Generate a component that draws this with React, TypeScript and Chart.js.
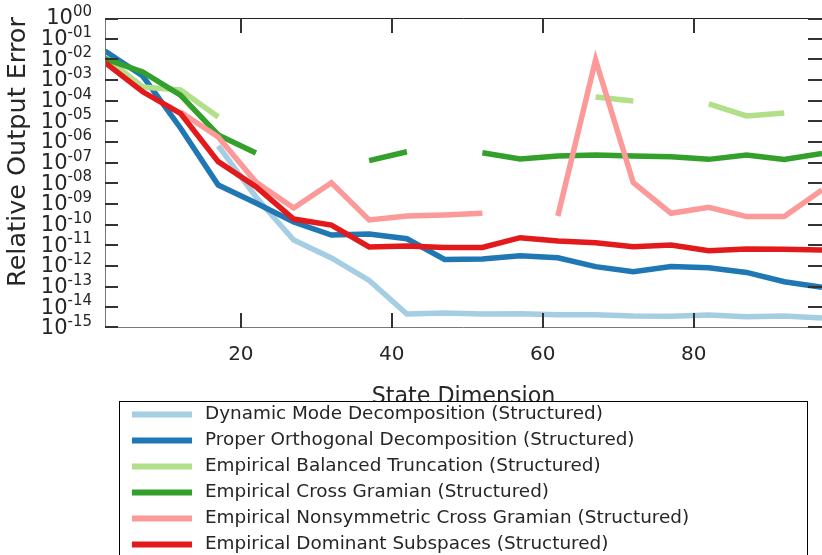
import { useEffect, useRef } from 'react';
import { Chart, registerables } from 'chart.js';

Chart.register(...registerables);

const STATE_DIMENSION = [2, 7, 12, 17, 22, 27, 32, 37, 42, 47, 52, 57, 62, 67, 72, 77, 82, 87, 92, 97];
const X_TICKS = [20, 40, 60, 80];
const Y_TICK_EXPONENTS = [0, -1, -2, -3, -4, -5, -6, -7, -8, -9, -10, -11, -12, -13, -14, -15];

const SERIES_LABELS = [
  'Dynamic Mode Decomposition (Structured)',
  'Proper Orthogonal Decomposition (Structured)',
  'Empirical Balanced Truncation (Structured)',
  'Empirical Cross Gramian (Structured)',
  'Empirical Nonsymmetric Cross Gramian (Structured)',
  'Empirical Dominant Subspaces (Structured)',
];
const SERIES_COLORS = ['#a6cee3', '#1f78b4', '#b2df8a', '#33a02c', '#fb9a99', '#e31a1c'];

// log10 of the relative output error (null = missing)
const DMD_LOG10 = [null, null, null, -6.19, -8.66, -10.74, -11.61, -12.70, -14.32, -14.27, -14.32, -14.31, -14.36, -14.36, -14.42, -14.43, -14.37, -14.45, -14.42, -14.52];
const POD_LOG10 = [-1.60, -2.81, -5.32, -8.08, -8.95, -9.87, -10.50, -10.45, -10.68, -11.68, -11.66, -11.50, -11.60, -12.03, -12.28, -12.03, -12.08, -12.31, -12.76, -13.03];
const EBT_LOG10 = [-1.89, -3.34, -3.48, -4.79, null, null, null, null, null, null, null, null, null, -3.82, -4.02, null, -4.16, -4.74, -4.60, null];
const ECG_LOG10 = [-1.98, -2.61, -3.73, -5.66, -6.53, null, null, -6.90, -6.47, null, -6.52, -6.82, -6.68, -6.63, -6.68, -6.71, -6.84, -6.63, -6.84, -6.55];
const ENCG_LOG10 = [null, null, -4.55, -5.76, -7.94, -9.19, -7.97, -9.77, -9.58, -9.53, -9.45, null, -9.58, -2.03, -7.97, -9.45, -9.16, -9.61, -9.61, -8.32];
const EDS_LOG10 = [-2.16, -3.57, -4.61, -6.95, -8.16, -9.73, -10.02, -11.08, -11.03, -11.10, -11.10, -10.63, -10.79, -10.87, -11.07, -10.98, -11.26, -11.18, -11.19, -11.23];

const SERIES_LOG10 = [DMD_LOG10, POD_LOG10, EBT_LOG10, ECG_LOG10, ENCG_LOG10, EDS_LOG10];

const FONT = '"DejaVu Sans", sans-serif';
const TEXT_COLOR = '#262626';

const decorPlugin = {
  id: 'decor',
  afterDatasetsDraw(chart: any) {
    const { ctx, chartArea } = chart;
    const xs = chart.scales.x;
    const ys = chart.scales.y;
    const { left, right, top, bottom } = chartArea;
    ctx.save();
    // spines
    ctx.lineWidth = 1;
    ctx.strokeStyle = '#222';
    ctx.beginPath();
    ctx.moveTo(left, top + 0.5);
    ctx.lineTo(right, top + 0.5);
    ctx.stroke();
    ctx.strokeStyle = '#777';
    ctx.beginPath();
    ctx.moveTo(left + 0.5, top);
    ctx.lineTo(left + 0.5, bottom);
    ctx.moveTo(left, bottom - 0.5);
    ctx.lineTo(right, bottom - 0.5);
    ctx.stroke();
    // ticks
    ctx.strokeStyle = '#333';
    ctx.lineWidth = 2;
    ctx.beginPath();
    Y_TICK_EXPONENTS.forEach((e) => {
      const py = Math.round(ys.getPixelForValue(Math.pow(10, e)));
      const yy = Math.min(Math.max(py, top + 1), bottom - 1);
      ctx.moveTo(left, yy);
      ctx.lineTo(left + 13, yy);
      ctx.moveTo(right, yy);
      ctx.lineTo(right - 14, yy);
    });
    X_TICKS.forEach((v) => {
      const px = Math.round(xs.getPixelForValue(v));
      ctx.moveTo(px, top);
      ctx.lineTo(px, top + 15);
      ctx.moveTo(px, bottom);
      ctx.lineTo(px, bottom - 15);
    });
    ctx.stroke();
    ctx.restore();
  },
  afterDraw(chart: any) {
    const { ctx, chartArea } = chart;
    const ys = chart.scales.y;
    ctx.save();
    // y tick labels 10^{e}
    ctx.fillStyle = TEXT_COLOR;
    ctx.textBaseline = 'middle';
    ctx.textAlign = 'left';
    const labelRight = chartArea.left - 13;
    Y_TICK_EXPONENTS.forEach((e) => {
      const py = ys.getPixelForValue(Math.pow(10, e));
      const sup = e === 0 ? '00' : '-' + String(-e).padStart(2, '0');
      ctx.font = `15px ${FONT}`;
      const supW = ctx.measureText(sup).width;
      ctx.font = `21px ${FONT}`;
      const baseW = ctx.measureText('10').width;
      const x0 = labelRight - supW - baseW;
      ctx.fillText('10', x0, py + 1);
      ctx.font = `15px ${FONT}`;
      ctx.fillText(sup, x0 + baseW, py - 6);
    });
    // y axis title
    ctx.save();
    ctx.translate(18, 152);
    ctx.rotate(-Math.PI / 2);
    ctx.textAlign = 'center';
    ctx.textBaseline = 'middle';
    ctx.font = `25.5px ${FONT}`;
    ctx.fillText('Relative Output Error', 0, 0);
    ctx.restore();
    // legend
    ctx.fillStyle = '#fff';
    ctx.fillRect(119.5, 401.5, 688, 170);
    ctx.strokeStyle = '#000';
    ctx.lineWidth = 1;
    ctx.strokeRect(119.5, 401.5, 688, 170);
    chart.data.datasets.forEach((ds: any, i: number) => {
      const y = 414.5 + 26 * i;
      ctx.strokeStyle = ds.borderColor;
      ctx.lineWidth = 6;
      ctx.beginPath();
      ctx.moveTo(132, y);
      ctx.lineTo(192, y);
      ctx.stroke();
      ctx.fillStyle = TEXT_COLOR;
      ctx.font = `18.4px ${FONT}`;
      ctx.textAlign = 'left';
      ctx.textBaseline = 'middle';
      ctx.fillText(ds.label, 205, y);
    });
    ctx.restore();
  },
};

export default function App() {
  const canvasRef = useRef<HTMLCanvasElement | null>(null);

  useEffect(() => {
    document.body.style.margin = '0';
    const canvas = canvasRef.current;
    if (!canvas) return;
    const datasets = SERIES_LABELS.map((label, i) => ({
      label,
      data: STATE_DIMENSION.map((x, j) => {
        const v = SERIES_LOG10[i][j];
        return { x, y: v === null ? null : Math.pow(10, v) };
      }),
      borderColor: SERIES_COLORS[i],
      backgroundColor: SERIES_COLORS[i],
      borderWidth: 5.5,
      pointRadius: 0,
      pointHoverRadius: 0,
      tension: 0,
      spanGaps: false,
      borderCapStyle: 'butt' as const,
      borderJoinStyle: 'miter' as const,
      order: SERIES_LABELS.length - i,
    }));

    const chart = new Chart(canvas, {
      type: 'line',
      data: { datasets: datasets as any },
      options: {
        animation: false,
        responsive: false,
        devicePixelRatio: 1,
        layout: { padding: { top: 18, left: 0, right: 0, bottom: 0 } },
        plugins: {
          legend: { display: false },
          tooltip: { enabled: false },
        },
        scales: {
          x: {
            type: 'linear',
            min: 2,
            max: 97,
            grid: { display: false, drawTicks: false },
            border: { display: false },
            ticks: {
              padding: 15,
              color: TEXT_COLOR,
              font: { family: FONT, size: 20 },
              maxRotation: 0,
            },
            afterBuildTicks: (scale: any) => {
              scale.ticks = X_TICKS.map((v) => ({ value: v }));
            },
            afterFit: (scale: any) => {
              scale.height = 227;
            },
            title: {
              display: true,
              text: 'State Dimension',
              color: TEXT_COLOR,
              font: { family: FONT, size: 22.2 },
              padding: { top: 0, bottom: 144 },
            },
          },
          y: {
            type: 'logarithmic',
            min: 1e-15,
            max: 1,
            grid: { display: false, drawTicks: false },
            border: { display: false },
            ticks: { display: false },
            afterBuildTicks: (scale: any) => {
              scale.ticks = Y_TICK_EXPONENTS.map((e) => ({ value: Math.pow(10, e) }));
            },
            afterFit: (scale: any) => {
              scale.width = 105;
            },
          },
        },
      },
      plugins: [decorPlugin],
    });
    return () => chart.destroy();
  }, []);

  return (
    <div style={{ width: 822, height: 555, position: 'relative', background: '#fff' }}>
      <canvas ref={canvasRef} width={822} height={555} style={{ display: 'block' }} />
    </div>
  );
}
